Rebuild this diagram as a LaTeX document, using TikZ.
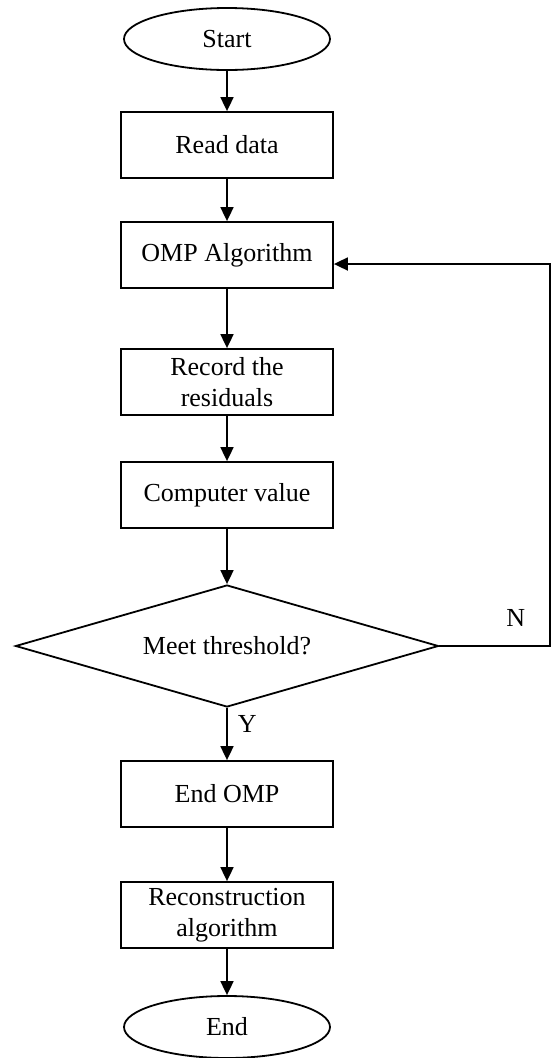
\documentclass[tikz,border=0pt]{standalone}
\usepackage{fontspec}
\setmainfont{Liberation Serif}
\usetikzlibrary{shapes.geometric,arrows.meta}

\begin{document}
\begin{tikzpicture}
[x=1pt,y=1pt,line width=1.8pt,>={Triangle[length=14pt,width=13pt]},
every node/.style={font=\fontsize{26}{31}\selectfont,align=center,inner sep=0pt},
term/.style={ellipse,draw,minimum width=206pt,minimum height=62pt},
proc/.style={rectangle,draw,minimum width=212pt,minimum height=66pt},
test/.style={diamond,draw,aspect=3.47,minimum width=423pt,minimum height=122pt}]
\useasboundingbox (0,0) rectangle (552,-1058);
\node[term] (start) at (227,-39){Start};
\node[proc] (read) at (227,-145){Read data};
\node[proc] (omp) at (227,-255){OMP Algorithm};
\node[proc] (rec) at (227,-382){Record the\\residuals};
\node[proc] (comp) at (227,-495){Computer value};
\node[test] (meet) at (227,-646){Meet threshold?};
\node[proc] (endomp) at (227,-794){End OMP};
\node[proc] (recon) at (227,-915){Reconstruction\\algorithm};
\node[term] (end) at (227,-1027){End};
\coordinate (back) at (550,-646);
\draw[->] (start)--(read);
\draw[->] (read)--(omp);
\draw[->] (omp)--(rec);
\draw[->] (rec)--(comp);
\draw[->] (comp)--(meet);
\draw[->] (meet)--(endomp) node[pos=.3,right=10pt] (yes) {Y};
\draw[->] (endomp)--(recon);
\draw[->] (recon)--(end);
\draw[->] (meet.east)--(back) node[pos=.69,above=19pt] (no) {N}
  |- ([yshift=-9pt]omp.east);
\end{tikzpicture}
\end{document}
